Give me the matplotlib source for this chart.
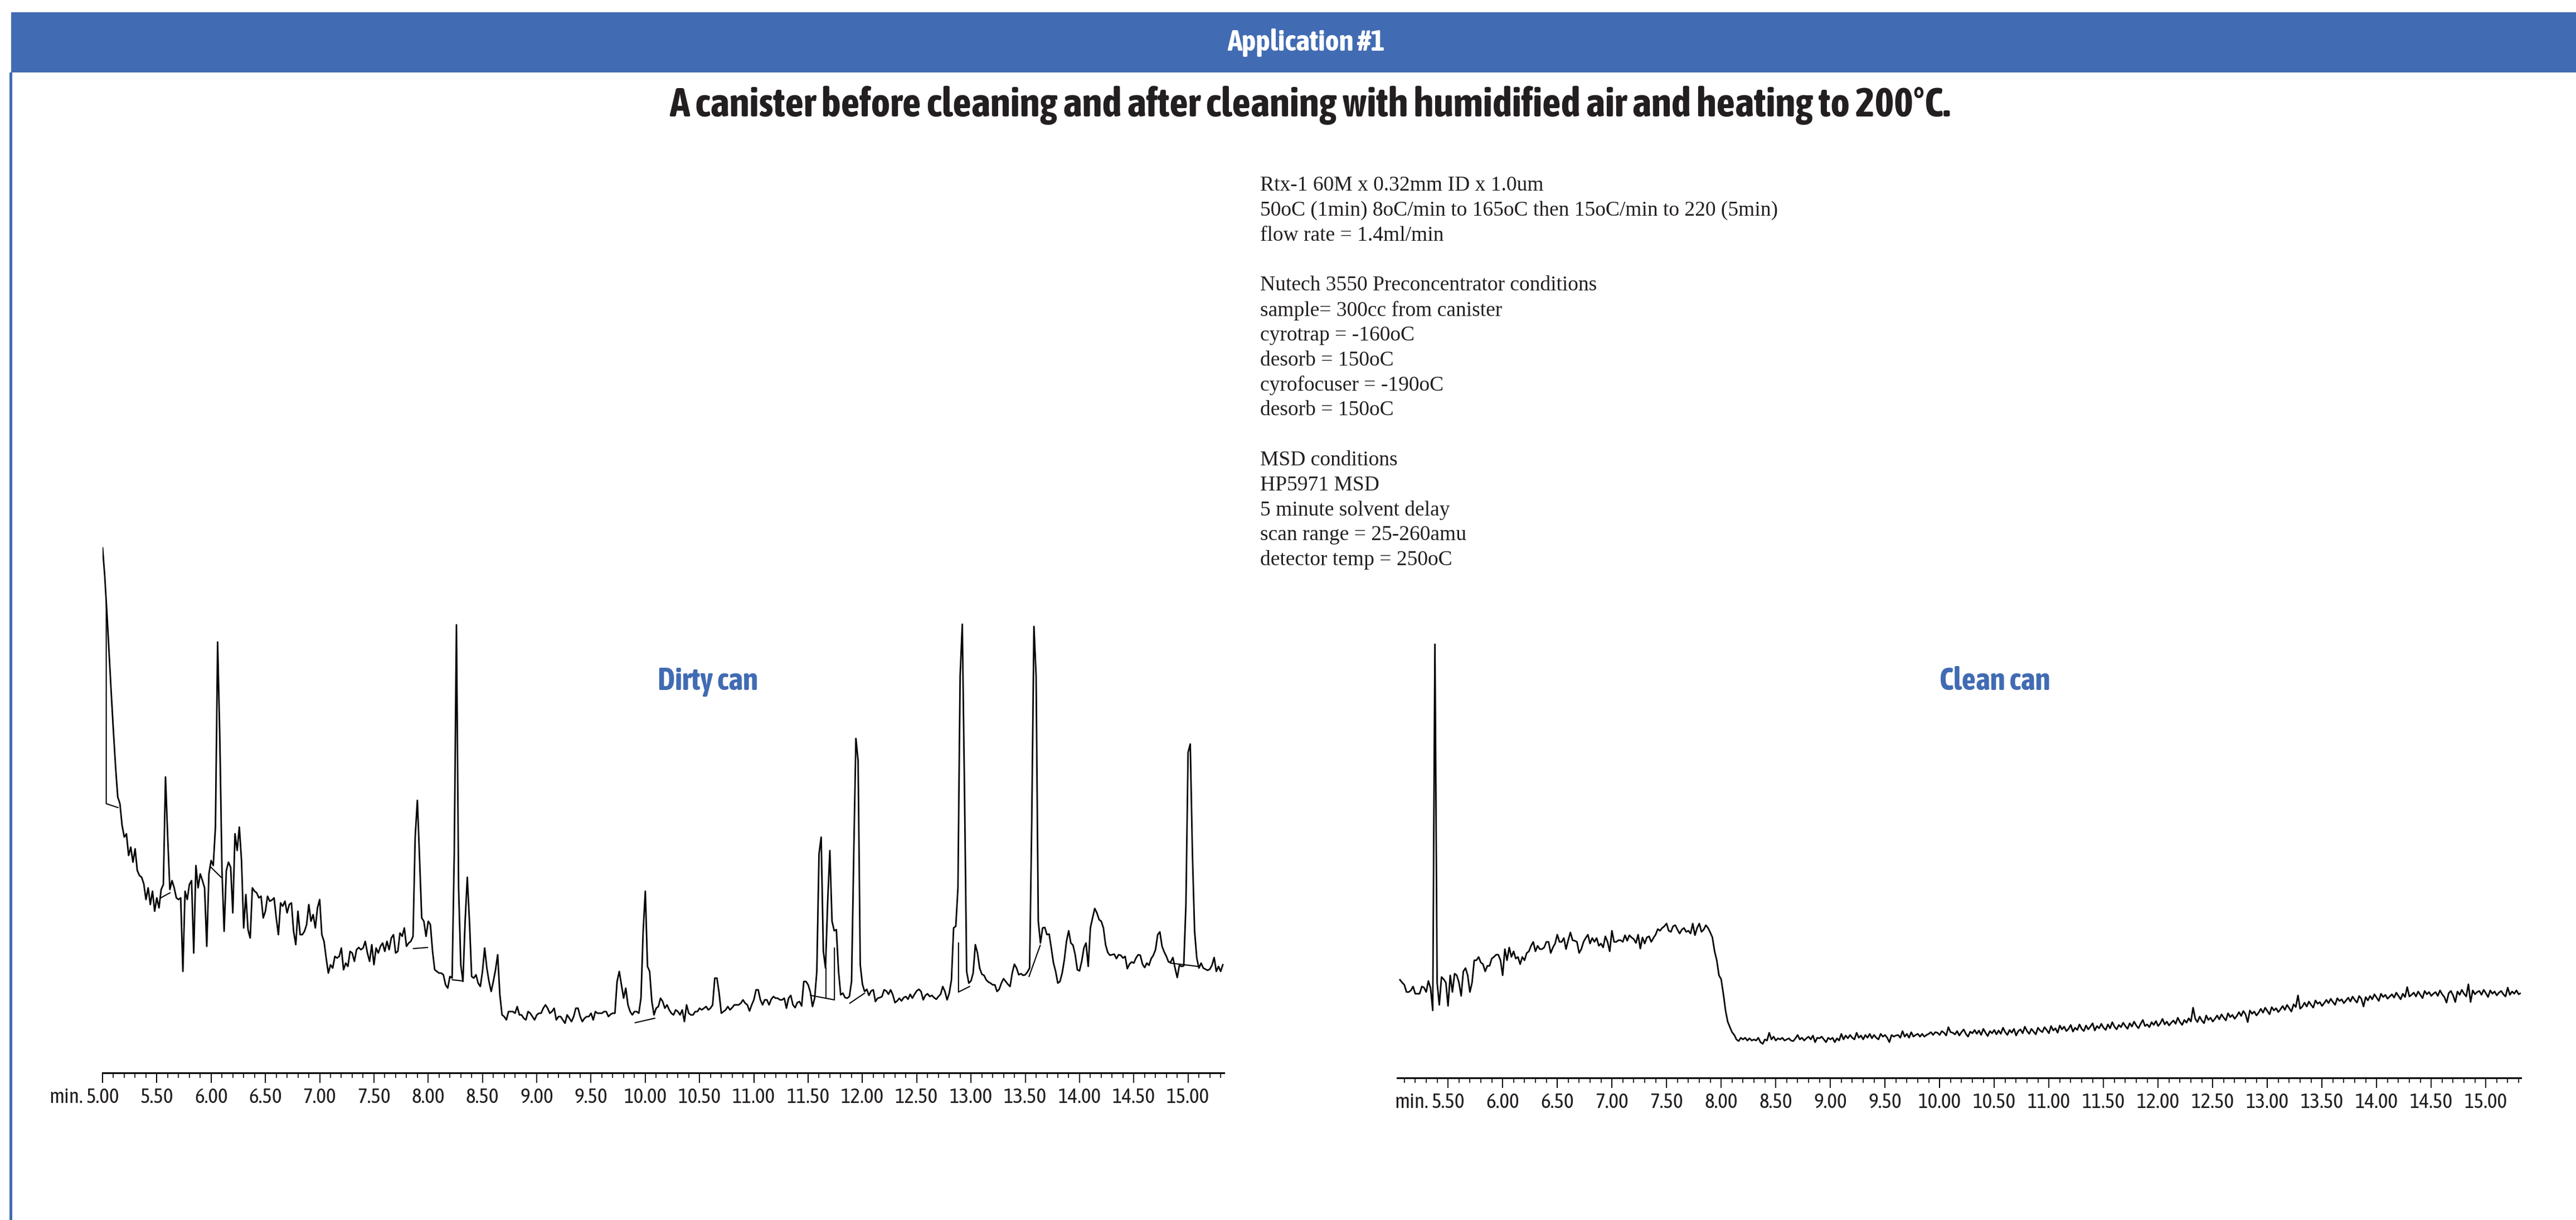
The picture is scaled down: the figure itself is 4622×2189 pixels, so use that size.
import numpy as np
import matplotlib
matplotlib.use("Agg")
import matplotlib.pyplot as plt
from matplotlib import font_manager
from matplotlib.patches import Rectangle
from matplotlib.ticker import MultipleLocator, FormatStrFormatter
from matplotlib.transforms import ScaledTranslation

# ---- text ----
header_text = "Application #1"
title_text = "A canister before cleaning and after cleaning with humidified air and heating to 200°C."
dirty_label = "Dirty can"
clean_label = "Clean can"
param_lines = [
    "Rtx-1 60M x 0.32mm ID x 1.0um",
    "50oC (1min) 8oC/min to 165oC then 15oC/min to 220 (5min)",
    "flow rate = 1.4ml/min",
    "",
    "Nutech 3550 Preconcentrator conditions",
    "sample= 300cc from canister",
    "cyrotrap = -160oC",
    "desorb = 150oC",
    "cyrofocuser = -190oC",
    "desorb = 150oC",
    "",
    "MSD conditions",
    "HP5971 MSD",
    "5 minute solvent delay",
    "scan range = 25-260amu",
    "detector temp = 250oC",
]

# ---- dirty can: abundance every 0.02 min from 5.00 min ----
dirty_start = 5.00
scan_step = 0.02
dirty_v = [
    942, 892, 826, 754, 682, 613, 549, 495, 483, 444,
    423, 429, 390, 405, 378, 402, 363, 354, 351, 339,
    311, 332, 302, 326, 290, 314, 296, 329, 338, 531,
    423, 329, 345, 332, 314, 311, 314, 182, 326, 311,
    338, 345, 215, 372, 332, 357, 345, 332, 227, 357,
    381, 372, 441, 773, 604, 363, 254, 363, 378, 369,
    287, 429, 399, 441, 381, 260, 320, 257, 242, 332,
    326, 323, 314, 317, 278, 290, 317, 308, 310, 314,
    278, 248, 305, 299, 308, 287, 302, 305, 254, 230,
    290, 248, 248, 254, 266, 302, 272, 284, 260, 296,
    311, 248, 236, 206, 179, 194, 188, 209, 206, 209,
    224, 185, 197, 191, 218, 215, 200, 221, 225, 221,
    224, 236, 215, 200, 230, 194, 224, 215, 227, 233,
    218, 236, 221, 242, 248, 215, 218, 251, 245, 260,
    227, 233, 236, 245, 423, 489, 387, 278, 272, 245,
    272, 266, 218, 185, 182, 179, 179, 176, 158, 152,
    173, 170, 393, 804, 332, 194, 164, 272, 351, 272,
    173, 170, 176, 161, 155, 182, 224, 188, 164, 146,
    164, 185, 212, 140, 104, 101, 95, 110, 110, 110,
    107, 119, 104, 104, 98, 95, 110, 107, 101, 95,
    104, 107, 107, 116, 122, 116, 107, 110, 116, 95,
    101, 101, 95, 89, 104, 98, 92, 101, 116, 116,
    101, 92, 98, 101, 101, 107, 95, 110, 107, 107,
    107, 110, 110, 101, 105, 107, 107, 164, 182, 158,
    134, 152, 122, 110, 104, 110, 110, 107, 134, 254,
    326, 191, 182, 128, 104, 116, 119, 134, 128, 116,
    122, 113, 107, 104, 113, 110, 104, 113, 92, 122,
    107, 104, 104, 110, 110, 116, 113, 116, 119, 113,
    116, 122, 170, 170, 143, 107, 110, 113, 119, 113,
    117, 122, 122, 122, 125, 131, 125, 122, 111, 122,
    131, 149, 149, 131, 122, 131, 131, 122, 132, 137,
    134, 134, 131, 131, 134, 116, 134, 139, 122, 117,
    126, 128, 120, 164, 164, 158, 145, 119, 134, 182,
    393, 423, 218, 188, 308, 399, 272, 255, 257, 182,
    140, 143, 135, 134, 137, 164, 393, 600, 560, 194,
    159, 146, 150, 139, 147, 149, 128, 134, 135, 137,
    149, 147, 141, 149, 140, 126, 129, 134, 129, 135,
    137, 132, 141, 134, 141, 147, 150, 146, 131, 139,
    142, 137, 139, 135, 132, 137, 141, 155, 146, 131,
    143, 167, 260, 263, 332, 712, 805, 513, 182, 161,
    165, 179, 230, 215, 188, 177, 175, 167, 163, 161,
    158, 158, 146, 150, 161, 169, 164, 159, 155, 179,
    195, 188, 176, 178, 175, 176, 181, 188, 453, 801,
    712, 272, 233, 260, 261, 248, 249, 224, 197, 182,
    161, 164, 179, 203, 236, 255, 233, 229, 212, 185,
    183, 200, 224, 233, 191, 260, 278, 295, 287, 275,
    272, 260, 230, 216, 211, 212, 213, 205, 212, 211,
    206, 209, 187, 195, 199, 197, 206, 212, 211, 195,
    189, 197, 193, 205, 211, 221, 248, 253, 227, 217,
    209, 199, 199, 207, 188, 171, 193, 191, 192, 302,
    575, 590, 393, 254, 206, 188, 197, 188, 186, 184,
    186, 193, 207, 182, 191, 182, 194,
]

# integration baselines drawn under the dirty-can peaks (time, abundance)
mark_t = [
    [5.034, 5.034, 5.142], [5.536, 5.621], [5.998, 6.092],
    [7.863, 7.994], [8.222, 8.316], [9.907, 10.087],
    [11.524, 11.742, 11.742], [11.665, 11.665], [11.884, 12.020],
    [12.885, 12.885, 12.987], [13.535, 13.638], [14.835, 15.092],
]
mark_v = [
    [845, 483, 476], [314, 323], [369, 351],
    [223, 225], [167, 165], [90, 98],
    [139, 131, 224], [188, 134], [125, 143],
    [233, 145, 155], [173, 229], [197, 191],
]

# ---- clean can: abundance every 0.02 min from 5.06 min ----
clean_start = 5.06
clean_v = [
    176, 171, 167, 154, 154, 157, 164, 151, 151, 151,
    164, 162, 154, 174, 161, 121, 778, 171, 131, 181,
    177, 171, 129, 184, 154, 187, 184, 171, 147, 191,
    197, 184, 154, 171, 211, 211, 217, 207, 204, 191,
    201, 201, 214, 217, 221, 221, 211, 184, 231, 211,
    234, 217, 227, 214, 217, 204, 217, 211, 224, 227,
    237, 244, 227, 237, 231, 231, 234, 244, 244, 224,
    234, 241, 257, 244, 244, 251, 231, 247, 261, 247,
    246, 244, 224, 231, 244, 251, 257, 241, 251, 244,
    251, 237, 241, 234, 254, 244, 227, 264, 244, 244,
    247, 247, 244, 256, 246, 256, 252, 249, 242, 257,
    232, 252, 241, 252, 254, 244, 251, 257, 267, 264,
    269, 272, 277, 264, 262, 272, 274, 266, 259, 266,
    269, 262, 264, 259, 277, 256, 269, 277, 262, 266,
    274, 269, 261, 252, 227, 211, 184, 177, 151, 121,
    101, 91, 82, 77, 69, 66, 72, 69, 72, 67,
    71, 67, 69, 67, 72, 64, 61, 69, 67, 81,
    69, 74, 67, 71, 69, 72, 67, 69, 71, 67,
    66, 71, 77, 69, 72, 67, 71, 74, 69, 76,
    64, 72, 71, 74, 69, 64, 72, 69, 72, 64,
    71, 67, 79, 69, 76, 71, 77, 72, 69, 81,
    72, 76, 69, 77, 72, 79, 71, 77, 72, 69,
    79, 74, 77, 72, 64, 77, 74, 76, 77, 72,
    84, 74, 79, 72, 82, 74, 77, 79, 74, 79,
    74, 77, 79, 82, 77, 82, 81, 77, 84, 81,
    76, 91, 82, 81,
    78, 84, 76, 82, 87, 79, 74, 83, 80, 86,
    79, 85, 77, 88, 81, 75, 84, 80, 86, 78,
    85, 79, 90, 82, 77, 86, 81, 88, 76, 84,
    87, 80, 92, 84, 79, 88, 83, 78, 90, 85,
    82, 91, 86, 80, 93, 85, 89, 81, 94, 87,
    92, 84, 88, 95, 83, 90, 86, 96, 88, 84,
    94, 87, 92, 98, 85, 93, 89, 97, 90, 86,
    96, 89, 100, 92, 87, 95, 91, 99, 93, 88,
    98, 92, 101, 94, 89, 97, 104, 93, 96, 91,
    100, 95, 102, 93, 98, 106, 96, 101, 94, 99,
    103, 97, 108, 100, 95, 104, 99, 107, 101, 126,
    106, 100, 110, 103, 98, 112, 104, 108, 101, 106,
    112, 105, 114, 108, 103, 116, 109, 113, 106, 111,
    118, 111, 120, 114, 100, 121, 115, 119, 112, 117,
    124, 117, 126, 120, 114, 127, 121, 125, 118, 123,
    129, 122, 131, 125, 119, 132, 127, 148, 124, 128,
    135, 128, 137, 131, 126, 139, 133, 136, 129, 134,
    140, 134, 142, 136, 131, 143, 138, 141, 134, 139,
    144, 137, 146, 140, 135, 147, 142, 128, 145, 139,
    147, 141, 150, 144, 138, 151, 145, 149, 142, 146,
    150, 144, 153, 147, 141, 151, 145, 163, 146, 149,
    153, 146, 155, 149, 143, 156, 150, 154, 147, 151,
    154, 147, 157, 150, 145, 135, 152, 156, 148, 136,
    155, 149, 158, 151, 146, 168, 136, 157, 150, 154,
    156, 149, 158, 152, 145, 157, 151, 155, 148, 153,
    156, 150, 146, 162, 149, 155, 151, 157, 150, 152,
]

CONDENSED = ("condensed", "semi-condensed", "extra-condensed", "ultra-condensed")


def weight_num(w):
    return w if isinstance(w, int) else font_manager.weight_dict.get(w, 400)


# look for an installed narrow / condensed sans family, preferring one with a bold face
def pick_narrow():
    groups = {}
    for f in font_manager.fontManager.ttflist:
        named = "Narrow" in f.name or "Condensed" in f.name
        if named or f.stretch in CONDENSED:
            key = (f.name, None if named else f.stretch)
            groups.setdefault(key, set()).add(weight_num(f.weight))
    if not groups:
        return {"family": "Liberation Sans"}, 0.82
    ranked = sorted(groups.items(),
                    key=lambda kv: (max(kv[1]) < 700, not (kv[1] & {400, 500}), kv[0][0]))
    (name, stretch), _ = ranked[0]
    props = {"family": name}
    if stretch:
        props["stretch"] = stretch
    return props, 1.0


NARROW, SCALE = pick_narrow()

W, H = 4622, 2189
BLUE = "#416bb3"
INK = "#231f20"
SERIF = ["Liberation Serif", "DejaVu Serif"]

fig = plt.figure(figsize=(W / 100, H / 100), dpi=100)

# header band and left rule
fig.patches.append(Rectangle((20 / W, 1 - 130 / H), 1 - 20 / W, 108 / H,
                             transform=fig.transFigure, facecolor=BLUE, edgecolor="none"))
fig.patches.append(Rectangle((17 / W, 0), 5 / W, 1 - 130 / H,
                             transform=fig.transFigure, facecolor=BLUE, edgecolor="none"))
fig.text(2344 / W, 1 - 76 / H, header_text, color="white", fontsize=38.5 * SCALE,
         fontweight="bold", ha="center", va="center", **NARROW)
fig.text(2350 / W, 1 - 189 / H, title_text, color=INK, fontsize=53 * SCALE,
         fontweight="bold", ha="center", va="center", **NARROW)

for i, line in enumerate(param_lines):
    if line:
        fig.text(2261 / W, 1 - (333 + 44.8 * i) / H, line, color=INK, fontsize=27,
                 family=SERIF, ha="left", va="center")

fig.text(1270 / W, 1 - 1223 / H, dirty_label, color=BLUE, fontsize=40 * SCALE,
         fontweight="bold", ha="center", va="center", **NARROW)
fig.text(3579 / W, 1 - 1223 / H, clean_label, color=BLUE, fontsize=40 * SCALE,
         fontweight="bold", ha="center", va="center", **NARROW)

TICK_LEN, TICK_PAD = 13, 6
LABEL_SIZE = 27 * SCALE


def style_axis(ax, xmin, xmax, ymax, first_label):
    ax.set_xlim(xmin, xmax)
    ax.set_ylim(0, ymax)
    for s in ["left", "right", "top"]:
        ax.spines[s].set_visible(False)
    ax.spines["bottom"].set_linewidth(2.2)
    ax.set_yticks([])
    ax.patch.set_alpha(0)
    ax.xaxis.set_major_locator(MultipleLocator(0.5))
    ax.xaxis.set_minor_locator(MultipleLocator(0.1))
    ax.xaxis.set_major_formatter(FormatStrFormatter("%.2f"))
    ax.tick_params(axis="x", which="major", direction="out", length=TICK_LEN, width=1.4,
                   pad=TICK_PAD, labelcolor=INK)
    ax.tick_params(axis="x", which="minor", direction="out", length=6.5, width=1.2)
    for lab in ax.get_xticklabels():
        lab.set_fontsize(LABEL_SIZE)
        lab.set_family(NARROW["family"])
        if "stretch" in NARROW:
            lab.set_stretch(NARROW["stretch"])
    off = ScaledTranslation(0, -(TICK_LEN + TICK_PAD) / 72, fig.dpi_scale_trans)
    ax.text(first_label - 0.18, 0, "min.", transform=ax.get_xaxis_transform() + off,
            ha="right", va="top", fontsize=LABEL_SIZE, color=INK, clip_on=False, **NARROW)


# dirty can chromatogram
axL = fig.add_axes([184 / W, 1 - 1925 / H, 2012 / W, 965 / H])
dirty_t = dirty_start + scan_step * np.arange(len(dirty_v))
axL.plot(dirty_t, dirty_v, color="black", lw=2.0)
for bt, bv in zip(mark_t, mark_v):
    axL.plot(bt, bv, color="black", lw=1.5)
style_axis(axL, 5.0, 15.33, 965, 5.0)

# clean can chromatogram
axR = fig.add_axes([2507 / W, 1 - 1934 / H, 2016 / W, 974 / H])
clean_t = clean_start + scan_step * np.arange(len(clean_v))
axR.plot(clean_t, clean_v, color="black", lw=2.0)
style_axis(axR, 5.035, 15.32, 974, 5.5)

fig.savefig("out.png", dpi=100)
